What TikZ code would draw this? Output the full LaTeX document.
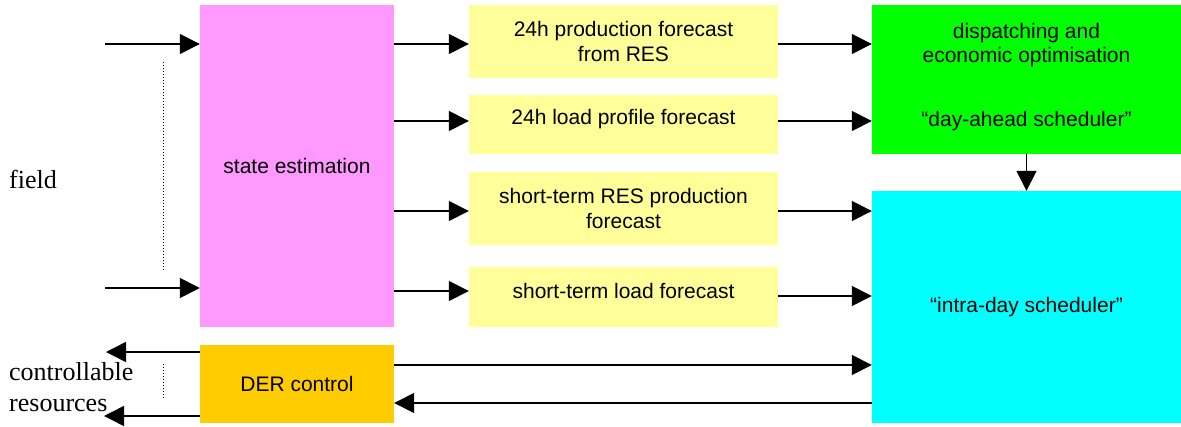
\documentclass[tikz,border=0pt]{standalone}
\usepackage{fontspec}
\setmainfont{Liberation Serif}
\setsansfont{Liberation Sans}
\usetikzlibrary{arrows.meta}
\definecolor{sepink}{HTML}{FF99FF}
\definecolor{fcyellow}{HTML}{FFFF99}
\definecolor{dagreen}{HTML}{00FF00}
\definecolor{idcyan}{HTML}{00FFFF}
\definecolor{derorange}{HTML}{FFCC00}
\begin{document}
\begin{tikzpicture}[
    x=1pt, y=-1pt,
    every node/.style={inner sep=0pt},
    blk/.style={minimum width=309pt, font=\sffamily\fontsize{21}{24.5}\selectfont, align=center},
    ybox/.style={blk, fill=fcyellow},
    txt/.style={font=\sffamily\fontsize{21}{24.5}\selectfont, align=center},
    side/.style={font=\fontsize{26}{31}\selectfont, align=left},
    arrow/.style={-{Triangle[length=20pt,width=20pt]}, line width=1.5pt}
]
\useasboundingbox (0,0) rectangle (1181,426);

\node[blk, fill=sepink, minimum width=194pt, minimum height=322pt] (se) at (297,166) {state estimation};
\node[blk, fill=derorange, minimum width=194pt, minimum height=78pt] (der) at (297,384) {DER control};

\node[ybox, minimum height=73pt] (prod24) at (623.5,41.5) {24h production forecast\\from RES};
\node[ybox, minimum height=59pt] (load24) at (623.5,124.5) {};
\node[txt] (load24t) at ([yshift=5.5pt]load24.center) {24h load profile forecast};
\node[ybox, minimum height=73pt] (resst) at (623.5,208.5) {short-term RES production\\forecast};
\node[ybox, minimum height=60pt] (loadst) at (623.5,297) {};
\node[txt] (loadstt) at ([yshift=6pt]loadst.center) {short-term load forecast};

\node[blk, fill=dagreen, minimum height=149pt] (dayahead) at (1026.5,79.5) {};
\node[txt] (dayaheadt1) at (1026.5,45) {dispatching and\\economic optimisation};
\node[txt] (dayaheadt2) at (1026.5,121) {“day-ahead scheduler”};
\node[blk, fill=idcyan, minimum height=232pt] (intraday) at (1026.5,307) {“intra-day scheduler”};

\node[side, anchor=base west] (field) at (9,188) {field};
\node[side, anchor=north west] (ctrl) at (9,362) {controllable\\resources};

\coordinate (f1) at (105,44);
\coordinate (f2) at (105,288);
\coordinate (c1) at (106,352);
\coordinate (c2) at (104,416);

\draw[arrow] (f1) -- (se.west |- f1);
\draw[arrow] (f2) -- (se.west |- f2);
\draw[dotted, line width=1pt] (163,62) -- (163,270);
\draw[dotted, line width=1pt] (163,364) -- (163,400);
\draw[arrow] (der.west |- c1) -- (c1);
\draw[arrow] (der.west |- c2) -- (c2);

\draw[arrow] (se.east |- 0,44) -- (prod24.west |- 0,44);
\draw[arrow] (se.east |- 0,121) -- (load24.west |- 0,121);
\draw[arrow] (se.east |- 0,211) -- (resst.west |- 0,211);
\draw[arrow] (se.east |- 0,291) -- (loadst.west |- 0,291);

\draw[arrow] (prod24.east |- 0,44) -- (dayahead.west |- 0,44);
\draw[arrow] (load24.east |- 0,121) -- (dayahead.west |- 0,121);
\draw[arrow] (resst.east |- 0,211) -- (intraday.west |- 0,211);
\draw[arrow] (loadst.east |- 0,296) -- (intraday.west |- 0,296);
\draw[arrow] (der.east |- 0,365) -- (intraday.west |- 0,365);
\draw[arrow] (intraday.west |- 0,403) -- (der.east |- 0,403);
\draw[arrow] (dayahead.south) -- (intraday.north);

\end{tikzpicture}
\end{document}
